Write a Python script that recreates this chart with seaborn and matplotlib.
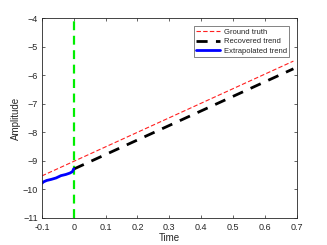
import matplotlib
matplotlib.use("Agg")
import matplotlib.pyplot as plt
import seaborn as sns
import pandas as pd

sns.set_theme(style="white")
plt.rcParams['font.family'] = ['Liberation Sans', 'DejaVu Sans']

# Data
gt_time = [-0.1, 0.69]
gt_amp = [-9.53, -5.5]
rec_time = [0.0, 0.69]
rec_amp = [-9.29, -5.77]
ext_time = [-0.1, -0.095, -0.085, -0.07, -0.055, -0.04, -0.025, -0.012, -0.004, 0.0]
ext_amp = [-9.79, -9.74, -9.69, -9.65, -9.6, -9.52, -9.48, -9.43, -9.38, -9.28]
vline_x = 0.0
xticks = [-0.1, 0, 0.1, 0.2, 0.3, 0.4, 0.5, 0.6, 0.7]
xtick_labels = ["-0.1", "0", "0.1", "0.2", "0.3", "0.4", "0.5", "0.6", "0.7"]
yticks = [-11, -10, -9, -8, -7, -6, -5, -4]

fig = plt.figure(figsize=(3.27, 2.45), dpi=100)
ax = fig.add_axes([0.128, 0.111, 0.779, 0.814])

ax.axvline(vline_x, color="#00ee00", lw=1.6, ls=(0, (4, 2.5)), zorder=1)
sns.lineplot(x=gt_time, y=gt_amp, ax=ax, color="#ff2020", lw=0.8,
             linestyle=(0, (4, 2)), label="Ground truth")
sns.lineplot(x=rec_time, y=rec_amp, ax=ax, color="black", lw=2.0,
             linestyle=(0, (4, 3)), label="Recovered trend")
sns.lineplot(x=ext_time, y=ext_amp, ax=ax, color="#0000ff", lw=2.0,
             label="Extrapolated trend", sort=False)

ax.set_xlim(-0.1, 0.7)
ax.set_ylim(-11, -4)
ax.set_xticks(xticks)
ax.set_xticklabels(xtick_labels)
ax.set_yticks(yticks)
ax.set_xlabel("Time", fontsize=7, color="#262626", labelpad=1)
ax.set_ylabel("Amplitude", fontsize=7, color="#262626", labelpad=1)
ax.tick_params(direction="in", length=2.5, width=0.5, labelsize=6.5,
               colors="#262626", top=True, right=True,
               bottom=True, left=True)
ax.tick_params(axis="x", pad=3.5)
ax.tick_params(axis="y", pad=3)
for s in ax.spines.values():
    s.set_linewidth(0.6)
    s.set_color("#262626")

leg = ax.legend(loc="upper right", fontsize=5.5, frameon=True, fancybox=False,
                edgecolor="#262626", borderpad=0.3, handlelength=3.2,
                labelspacing=0.3, borderaxespad=1.0, handletextpad=0.4)
leg.get_frame().set_linewidth(0.5)

fig.savefig("out.png", dpi=100)
